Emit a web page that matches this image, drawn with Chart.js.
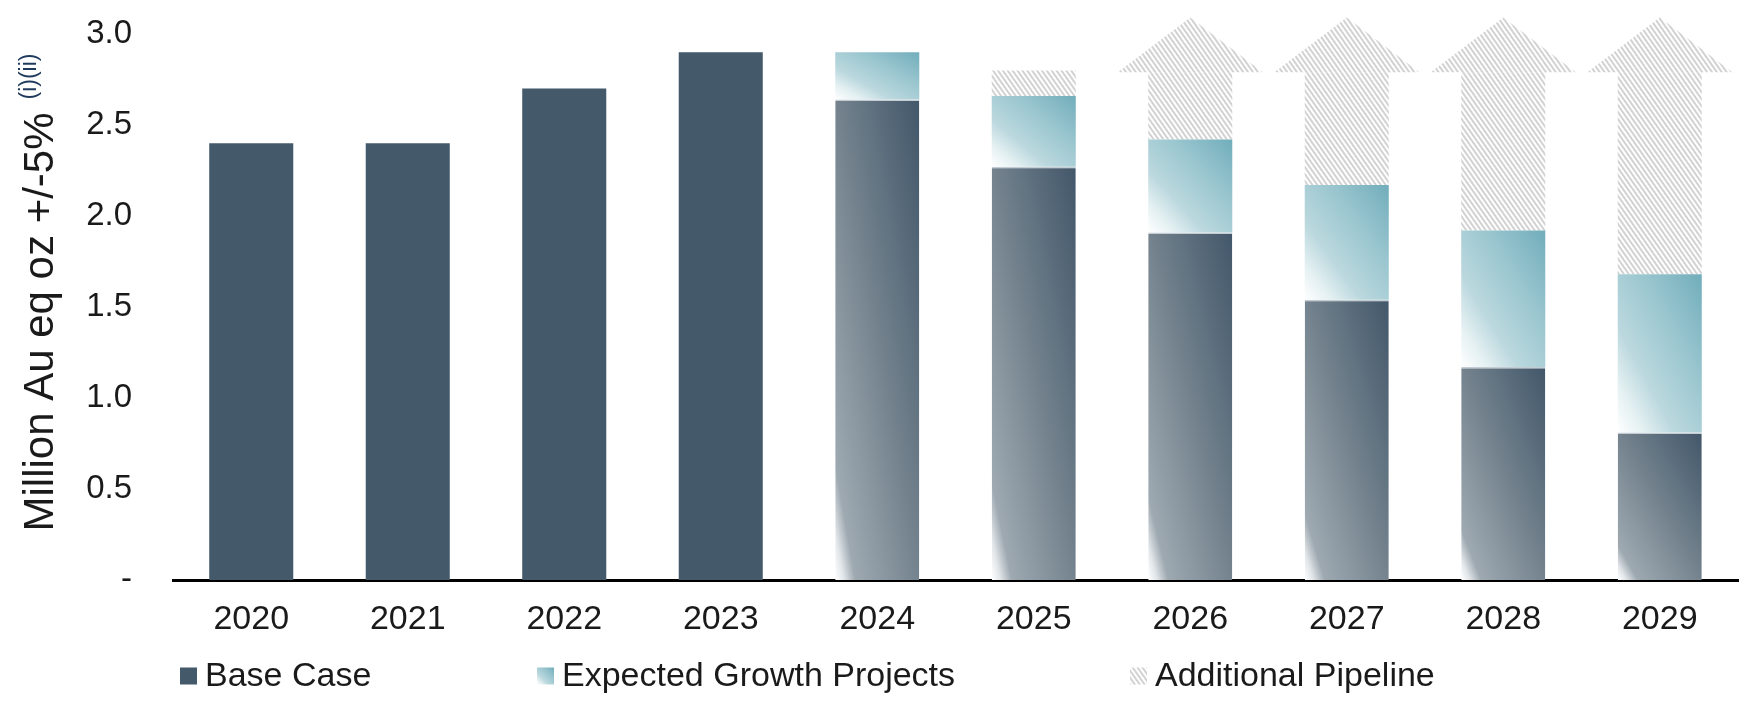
<!DOCTYPE html>
<html>
<head>
<meta charset="utf-8">
<script src="https://cdn.jsdelivr.net/npm/chart.js@4.4.1/dist/chart.umd.min.js"></script>
<style>
  html, body { margin: 0; padding: 0; background: #ffffff; }
  #wrap { width: 1756px; height: 716px; position: relative; }
</style>
</head>
<body>
<div id="wrap"><canvas id="c"></canvas></div>
<script>
// ---------------- data ----------------
const years = ['2020', '2021', '2022', '2023', '2024', '2025', '2026', '2027', '2028', '2029'];
const baseCase = [2.40, 2.40, 2.70, 2.90, 2.64, 2.27, 1.91, 1.54, 1.17, 0.81];
const growthProjects = [null, null, null, null, 0.26, 0.39, 0.51, 0.63, 0.75, 0.87];
const additionalPipeline = [null, null, null, null, null, 0.14, 0.37, 0.62, 0.87, 1.11];
const pipelineArrowTip = [null, null, null, null, null, null, 3.09, 3.09, 3.09, 3.09];
const yTickLabels = ['-', '0.5', '1.0', '1.5', '2.0', '2.5', '3.0'];
const seriesNames = ['Base Case', 'Expected Growth Projects', 'Additional Pipeline'];
const yTitle = 'Million Au eq oz +/-5%';
const yTitleNote = '(i)(ii)';
const actualYears = 4; // first 4 years are actuals (solid fill)

// ---------------- styling ----------------
const FONT = '"Liberation Sans", Arial, Helvetica, sans-serif';
const TEXT = '#1a1a1a';
const BASE_SOLID = '#44596a';
const BASE_STOPS = [[0, '#ffffff'], [0.05, '#e3e7ea'], [0.12, '#9ea9b1'], [0.5, '#74838e'], [1, '#42576a']];
const GROWTH_STOPS = [[0, '#ffffff'], [0.16, '#e4f0f2'], [0.34, '#bbd8de'], [0.65, '#9ac6cf'], [1, '#71adbb']];
const BAR_PCT = 0.537;
const LEGEND_X = [180, 537, 1130];
const LEGEND_Y = 676;
const TITLE_FONT = 42, NOTE_FONT = 23;

Chart.defaults.font.family = FONT;

function makeHatch() {
  const t = document.createElement('canvas');
  t.width = 4; t.height = 4;
  const g = t.getContext('2d');
  g.fillStyle = '#d2d2d2';
  g.fillRect(0, 0, 2, 4);
  const p = document.createElement('canvas').getContext('2d').createPattern(t, 'repeat');
  p.setTransform(new DOMMatrix().rotateSelf(-35));
  return p;
}
const hatch = makeHatch();

// PowerPoint-like "scaled with shape" diagonal gradient
function rectGradient(ctx, xL, xR, yT, yB, stops) {
  const w = Math.max(xR - xL, 1), h = Math.max(yB - yT, 1);
  const t = 2 / (1 / (w * w) + 1 / (h * h));
  const g = ctx.createLinearGradient(xL, yB, xL + t / w, yB - t / h);
  stops.forEach(s => g.addColorStop(s[0], s[1]));
  return g;
}

const seriesData = [baseCase, growthProjects, additionalPipeline];

function fillFor(c, ds) {
  const i = c.dataIndex;
  if (c.type !== 'data') return ds === 0 ? BASE_SOLID : '#98c4ce';
  if (ds === 0 && i < actualYears) return BASE_SOLID;
  const chart = c.chart;
  const xs = chart.scales.x, ys = chart.scales.y;
  if (!xs || !ys || !chart.chartArea) return ds === 0 ? BASE_SOLID : '#98c4ce';
  const cw = xs.width / years.length;
  const bw = cw * BAR_PCT;
  const cx = xs.getPixelForValue(i);
  let lo = 0;
  for (let d = 0; d < ds; d++) lo += seriesData[d][i] || 0;
  const hi = lo + (seriesData[ds][i] || 0);
  return rectGradient(chart.ctx, cx - bw / 2, cx + bw / 2, ys.getPixelForValue(hi), ys.getPixelForValue(lo),
    ds === 0 ? BASE_STOPS : GROWTH_STOPS);
}

// arrow heads on the additional pipeline bars
const arrowPlugin = {
  id: 'arrowHeads',
  afterDatasetsDraw(chart) {
    const meta = chart.getDatasetMeta(2);
    const ys = chart.scales.y;
    const ctx = chart.ctx;
    ctx.save();
    ctx.fillStyle = hatch;
    meta.data.forEach((el, i) => {
      if (pipelineArrowTip[i] == null) return;
      const p = el.getProps(['x', 'y', 'width'], true);
      const hw = p.width / 2 + p.width * 0.363;
      const yTip = ys.getPixelForValue(pipelineArrowTip[i]);
      ctx.beginPath();
      ctx.moveTo(p.x - hw, p.y);
      ctx.lineTo(p.x, yTip);
      ctx.lineTo(p.x + hw, p.y);
      ctx.closePath();
      ctx.fill();
    });
    ctx.restore();
  }
};

// legend drawn on the canvas
const legendPlugin = {
  id: 'customLegend',
  afterDraw(chart) {
    const ctx = chart.ctx;
    ctx.save();
    ctx.font = '34px ' + FONT;
    ctx.textBaseline = 'middle';
    ctx.textAlign = 'left';
    chart.data.datasets.forEach((ds, k) => {
      const x = LEGEND_X[k], y = LEGEND_Y;
      let fill;
      if (k === 0) fill = BASE_SOLID;
      else if (k === 1) fill = rectGradient(ctx, x, x + 17, y - 8.5, y + 8.5, GROWTH_STOPS);
      else fill = hatch;
      ctx.fillStyle = fill;
      ctx.fillRect(x, y - 8.5, 17, 17);
      ctx.fillStyle = TEXT;
      ctx.fillText(ds.label, x + 25, y + 1);
    });
    ctx.restore();
  }
};

// y axis title with its superscript note
const titlePlugin = {
  id: 'yTitle',
  afterDraw(chart) {
    const ys = chart.scales.y;
    const ctx = chart.ctx;
    ctx.save();
    ctx.font = TITLE_FONT + 'px ' + FONT;
    const w = ctx.measureText(yTitle).width;
    const cy = (ys.top + ys.bottom) / 2 + 15;
    const cx = ys.left + 41;
    ctx.fillStyle = TEXT;
    ctx.textAlign = 'left';
    ctx.textBaseline = 'middle';
    ctx.translate(cx, cy + w / 2);
    ctx.rotate(-Math.PI / 2);
    ctx.fillText(yTitle, 0, 0);
    ctx.font = NOTE_FONT + 'px ' + FONT;
    ctx.fillStyle = '#1f3a5c';
    ctx.fillText(yTitleNote, w + 13, -11);
    ctx.restore();
  }
};

new Chart(document.getElementById('c'), {
  type: 'bar',
  data: {
    labels: years,
    datasets: [
      {
        label: seriesNames[0], data: baseCase, backgroundColor: c => fillFor(c, 0),
        borderColor: '#c3ccd2',
        borderWidth: c => (c.dataIndex >= actualYears ? { top: 1.5, left: 0, right: 0, bottom: 0 } : 0)
      },
      { label: seriesNames[1], data: growthProjects, backgroundColor: c => fillFor(c, 1) },
      { label: seriesNames[2], data: additionalPipeline, backgroundColor: hatch }
    ]
  },
  options: {
    responsive: true,
    maintainAspectRatio: false,
    animation: false,
    layout: { padding: { left: 0, right: 18, top: 34, bottom: 76 } },
    datasets: { bar: { categoryPercentage: 1, barPercentage: BAR_PCT, borderWidth: 0 } },
    scales: {
      x: {
        stacked: true,
        grid: { display: false, drawTicks: false },
        border: { display: true, color: '#000000', width: 3 },
        ticks: { padding: 19, color: TEXT, font: { size: 34 } },
        afterFit: s => { s.height = 60; }
      },
      y: {
        stacked: true,
        min: 0,
        max: 3,
        grid: { display: false, drawTicks: false },
        border: { display: false },
        ticks: {
          stepSize: 0.5,
          padding: 41,
          color: TEXT,
          font: { size: 33 },
          callback: v => yTickLabels[Math.round(v / 0.5)]
        },
        title: { display: false, text: yTitle },
        afterFit: s => { s.width = 173; s.paddingTop = 0; s.paddingBottom = 0; }
      }
    },
    plugins: { legend: { display: false }, tooltip: { enabled: false } }
  },
  plugins: [arrowPlugin, legendPlugin, titlePlugin]
});
</script>
</body>
</html>
